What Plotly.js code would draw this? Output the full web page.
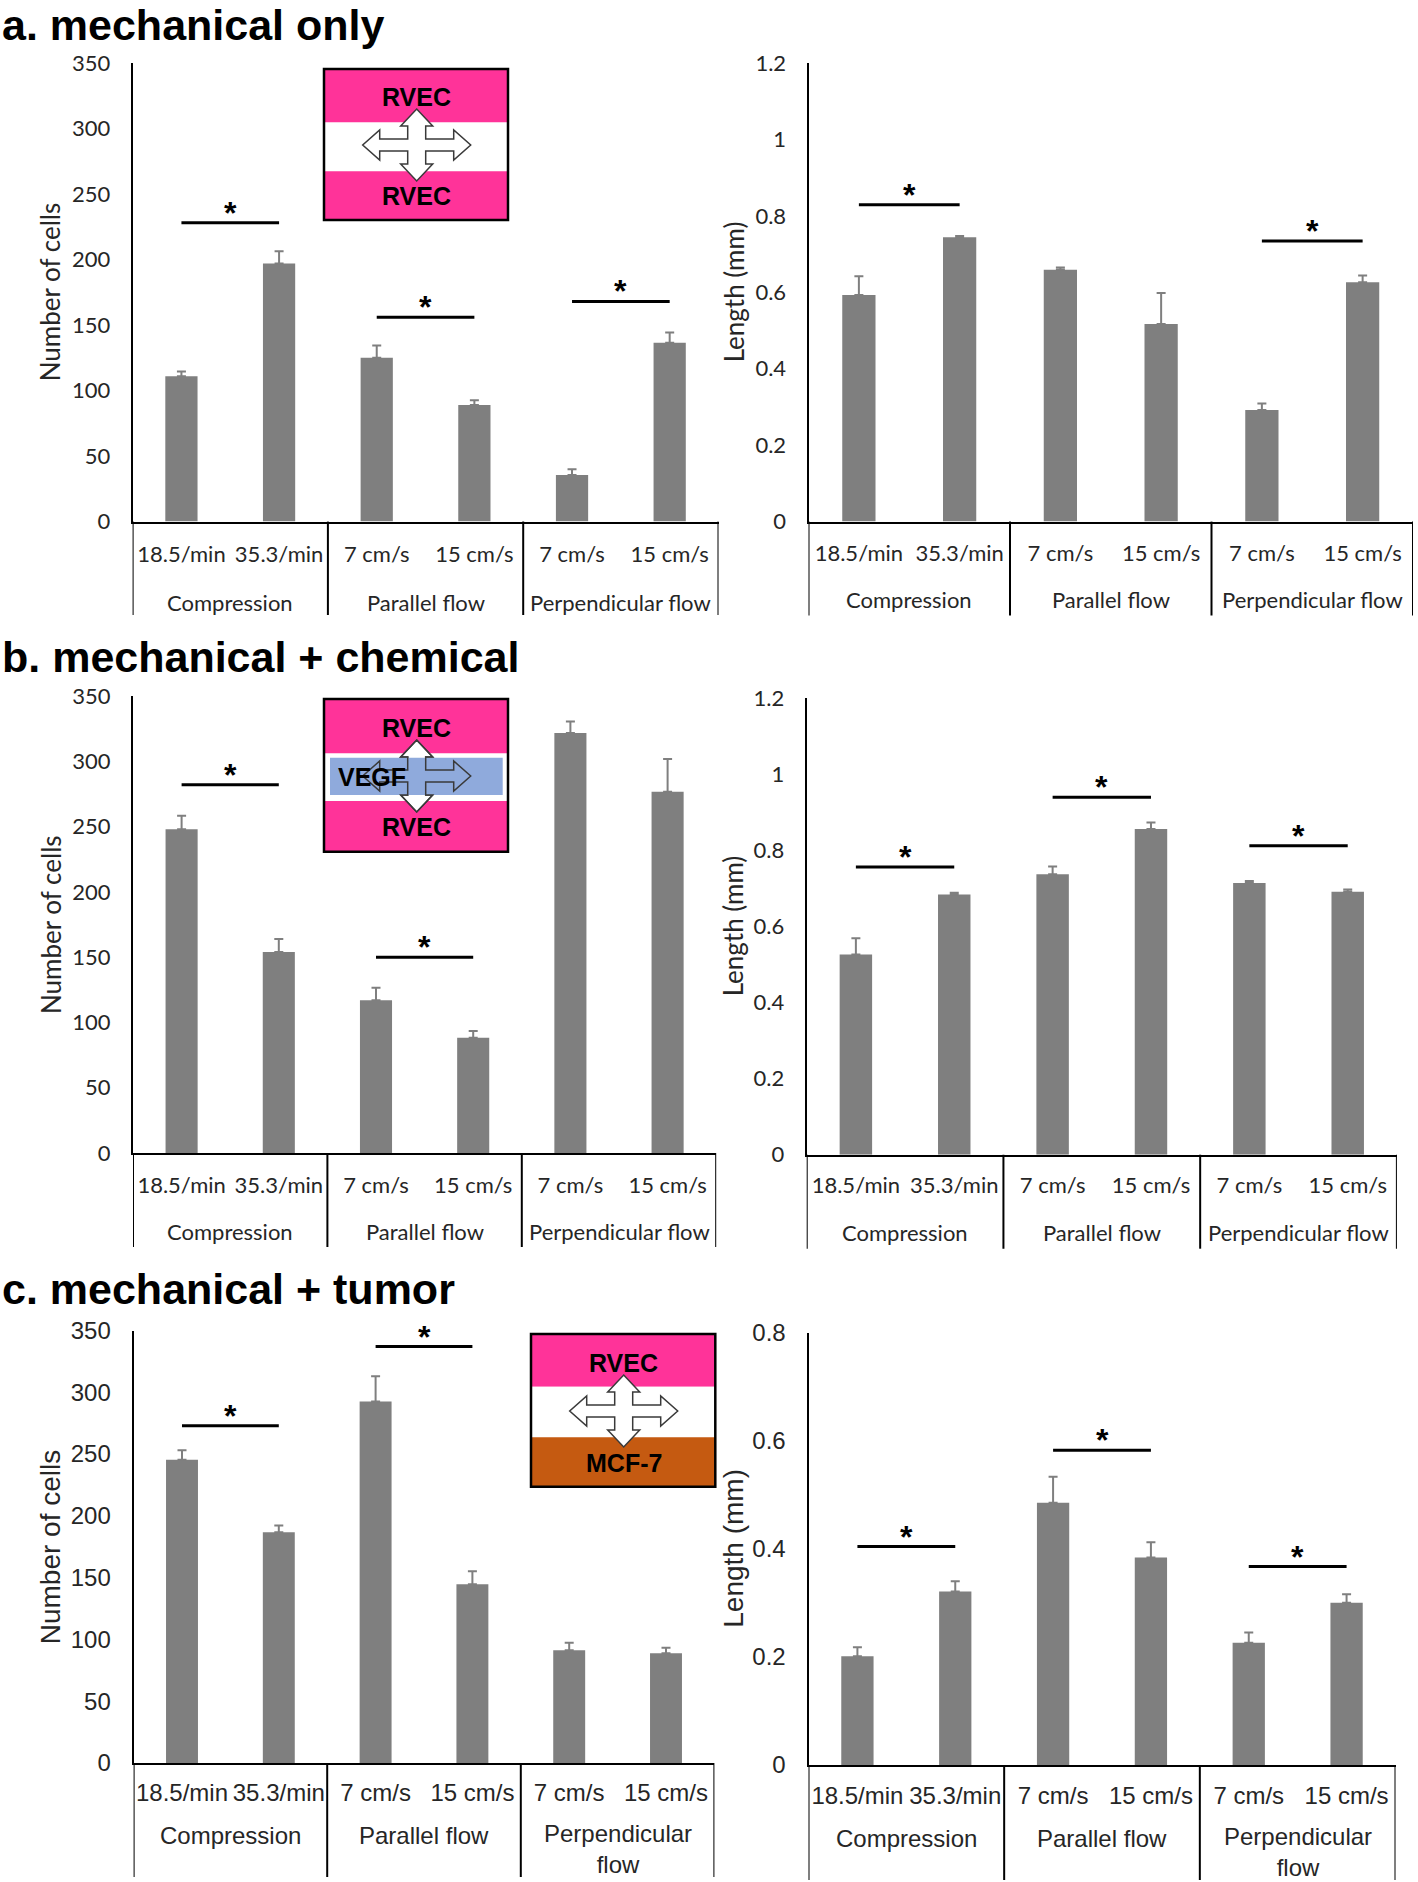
<!DOCTYPE html>
<html><head><meta charset="utf-8">
<script src="https://cdn.plot.ly/plotly-3.0.1.min.js"></script>
<style>html,body{margin:0;padding:0;background:#fff}#chart{width:1418px;height:1882px}</style>
</head><body><div id="chart"></div>
<script>
// ---------- DATA ----------
const categories = ["18.5/min", "35.3/min", "7 cm/s", "15 cm/s", "7 cm/s", "15 cm/s"];
const groupLabels = ["Compression", "Parallel flow", "Perpendicular flow"];
const groupLabelsC = ["Compression", "Parallel flow", "Perpendicular<br>flow"];
const panelTitles = ["a. mechanical only", "b. mechanical + chemical", "c. mechanical + tumor"];

const cellsA = [111, 197, 125, 89, 35.5, 136.5];
const cellsAErr = [3.5, 9.4, 9.4, 3.7, 4.4, 7.8];
const lengthA = [0.593, 0.744, 0.659, 0.517, 0.292, 0.626];
const lengthAErr = [0.049, 0.003, 0.006, 0.081, 0.017, 0.018];

const cellsB = [248, 154, 117, 88.3, 321.6, 276.7];
const cellsBErr = [10.2, 9.8, 9.5, 5.2, 8.9, 25];
const lengthB = [0.526, 0.684, 0.737, 0.856, 0.714, 0.691];
const lengthBErr = [0.043, 0.004, 0.02, 0.017, 0.005, 0.006];

const cellsC = [245.4, 186.7, 292.5, 144.7, 91.3, 88.8];
const cellsCErr = [7.6, 5.4, 20.5, 10.4, 6, 4.4];
const lengthC = [0.201, 0.321, 0.485, 0.384, 0.226, 0.300];
const lengthCErr = [0.017, 0.019, 0.048, 0.028, 0.019, 0.016];

// significance brackets: [from category, to category, level]
const sigCellsA = [[0, 1, 228], [2, 3, 156], [4, 5, 168]];
const sigLengthA = [[0, 1, 0.829], [4, 5, 0.734]];
const sigCellsB = [[0, 1, 282], [2, 3, 150]];
const sigLengthB = [[0, 1, 0.756], [2, 3, 0.939], [4, 5, 0.812]];
const sigCellsC = [[0, 1, 273], [2, 3, 337]];
const sigLengthC = [[0, 1, 0.404], [2, 3, 0.582], [4, 5, 0.367]];

// ---------- LAYOUT ----------
const W = 1418, H = 1882;
const fx = x => x / W, fy = y => 1 - y / H;
const CAL = "Lato, 'Open Sans', sans-serif";
const ARI = "'Liberation Sans', Arial, sans-serif";
const TXT = '#262626';
const BAR = '#7F7F7F';

const panels = [
  {vals: cellsA, errs: cellsAErr, sig: sigCellsA, yr: [0, 350], dt: 50, x0: 132.6, x1: 718.5, yt: 63, yb: 521.6, divB: 615, catY: 555, grpY: 602, ttl: 'Number of cells', ttlX: 50, grp: groupLabels, f: CAL, fs: 22, ts: 26},
  {vals: lengthA, errs: lengthAErr, sig: sigLengthA, yr: [0, 1.2], dt: 0.2, x0: 808.5, x1: 1413, yt: 63, yb: 521.6, divB: 615.5, catY: 554, grpY: 600, ttl: 'Length (mm)', ttlX: 734, grp: groupLabels, f: CAL, fs: 22, ts: 26},
  {vals: cellsB, errs: cellsBErr, sig: sigCellsB, yr: [0, 350], dt: 50, x0: 133, x1: 716.2, yt: 696, yb: 1153, divB: 1247, catY: 1185.6, grpY: 1231.8, ttl: 'Number of cells', ttlX: 50.5, grp: groupLabels, f: CAL, fs: 22, ts: 26},
  {vals: lengthB, errs: lengthBErr, sig: sigLengthB, yr: [0, 1.2], dt: 0.2, x0: 806.7, x1: 1396.9, yt: 698, yb: 1154.7, divB: 1248.7, catY: 1186, grpY: 1232.6, ttl: 'Length (mm)', ttlX: 733, grp: groupLabels, f: CAL, fs: 22, ts: 26},
  {vals: cellsC, errs: cellsCErr, sig: sigCellsC, yr: [0, 350], dt: 50, x0: 133.6, x1: 714.4, yt: 1330.5, yb: 1763, divB: 1877, catY: 1792, grpY: 1835, ttl: 'Number of cells', ttlX: 50.5, grp: groupLabelsC, f: ARI, fs: 24, ts: 28},
  {vals: lengthC, errs: lengthCErr, sig: sigLengthC, yr: [0, 0.8], dt: 0.2, x0: 808.5, x1: 1395.5, yt: 1332.5, yb: 1765, divB: 1880, catY: 1795, grpY: 1838, ttl: 'Length (mm)', ttlX: 734, grp: groupLabelsC, f: ARI, fs: 24, ts: 28}
];

const xPos = categories.map((_, i) => i);
const data = [];
const layout = {
  width: W, height: H, margin: {l: 0, r: 0, t: 0, b: 0},
  paper_bgcolor: '#fff', plot_bgcolor: 'rgba(0,0,0,0)',
  showlegend: false, shapes: [], annotations: []
};

panels.forEach((p, i) => {
  const n = i === 0 ? '' : String(i + 1);
  const xa = 'x' + n, ya = 'y' + n;
  data.push({
    type: 'bar', x: xPos, y: p.vals, width: 0.33, xaxis: xa, yaxis: ya,
    marker: {color: BAR}, hoverinfo: 'none',
    error_y: {type: 'data', symmetric: false, array: p.errs, arrayminus: [], color: BAR, thickness: 2, width: 4.5}
  });
  p.sig.forEach(s => {
    data.push({type: 'scatter', mode: 'lines', x: [s[0], s[1]], y: [s[2], s[2]], xaxis: xa, yaxis: ya,
      line: {color: '#000', width: 3}, hoverinfo: 'none'});
    layout.annotations.push({xref: xa, yref: ya, x: (s[0] + s[1]) / 2, y: s[2], text: '<b>*</b>', showarrow: false,
      yanchor: 'middle', yshift: 10, font: {family: ARI, size: 32, color: '#000'}});
  });
  const tl = p.catY - p.yb - 14 - 0.34 * p.fs;
  layout['xaxis' + n] = {
    domain: [fx(p.x0), fx(p.x1)], range: [-0.5, 5.5], anchor: ya,
    tickvals: xPos, ticktext: categories, showline: true, linecolor: '#000', linewidth: 2,
    ticks: 'outside', ticklen: tl, tickcolor: 'rgba(0,0,0,0)', showgrid: false, zeroline: false,
    tickfont: {family: p.f, size: p.fs, color: TXT}, fixedrange: true
  };
  layout['yaxis' + n] = {
    domain: [fy(p.yb), fy(p.yt)], range: p.yr, dtick: p.dt, tick0: 0, anchor: xa,
    showline: true, linecolor: '#000', linewidth: 2,
    ticks: 'outside', ticklen: 16, tickcolor: 'rgba(0,0,0,0)', showgrid: false, zeroline: false,
    tickfont: {family: p.f, size: p.fs, color: TXT}, fixedrange: true
  };
  // group dividers
  for (let k = 0; k <= p.grp.length; k++) {
    layout.shapes.push({type: 'line', xref: xa, yref: 'paper', x0: 2 * k - 0.5, x1: 2 * k - 0.5,
      y0: fy(p.yb), y1: fy(p.divB), line: {color: '#000', width: 2}});
  }
  p.grp.forEach((g, k) => {
    const lines = g.split('<br>').length;
    layout.annotations.push({xref: xa, yref: 'paper', x: 2 * k + 0.5, y: fy(p.grpY + (lines - 1) * 0.6 * p.fs),
      text: g, showarrow: false, xanchor: 'center', yanchor: 'middle',
      font: {family: p.f, size: p.fs, color: TXT}});
  });
  layout.annotations.push({xref: 'paper', yref: 'paper', x: fx(p.ttlX), y: fy((p.yt + p.yb) / 2),
    text: p.ttl, textangle: -90, showarrow: false, xanchor: 'center', yanchor: 'middle',
    font: {family: p.f, size: p.ts, color: TXT}});
});

// panel titles
[[25], [657], [1289]].forEach((t, i) => {
  layout.annotations.push({xref: 'paper', yref: 'paper', x: 0, y: fy(t[0]), xanchor: 'left', yanchor: 'middle',
    text: '<b>' + panelTitles[i] + '</b>', showarrow: false, font: {family: ARI, size: 43, color: '#000'}});
});

// ---------- inset diagrams ----------
function rect(x0, y0, x1, y1, fill, line) {
  return {type: 'rect', xref: 'paper', yref: 'paper', x0: fx(x0), x1: fx(x1), y0: fy(y0), y1: fy(y1),
    fillcolor: fill || 'rgba(0,0,0,0)', line: line || {width: 0}};
}
function quadArrow(cx, cy, fill) {
  const pts = [[0,-36],[16,-19],[9,-19],[9,-6],[37,-6],[37,-15],[54,0],[37,15],[37,6],[9,6],[9,19],[16,19],
    [0,36],[-16,19],[-9,19],[-9,6],[-37,6],[-37,15],[-54,0],[-37,-15],[-37,-6],[-9,-6],[-9,-19],[-16,-19]];
  const d = pts.map((q, i) => (i ? 'L' : 'M') + fx(cx + q[0]).toFixed(5) + ',' + fy(cy + q[1]).toFixed(5)).join(' ') + ' Z';
  return {type: 'path', xref: 'paper', yref: 'paper', path: d, fillcolor: fill, line: {color: '#3a3a3a', width: 1.5}};
}
function label(x, y, t) {
  layout.annotations.push({xref: 'paper', yref: 'paper', x: fx(x), y: fy(y), text: '<b>' + t + '</b>', showarrow: false,
    xanchor: 'center', yanchor: 'middle', font: {family: ARI, size: 25, color: '#000'}});
}
const PINK = '#FF3399', BLUE = '#8FAADC', BROWN = '#C55A11';
const border = {color: '#000', width: 2.5};
// a
layout.shapes.push(rect(324, 69, 508, 220, PINK));
layout.shapes.push(rect(324, 122.3, 508, 171.3, '#fff'));
layout.shapes.push(quadArrow(416.7, 145, '#fff'));
layout.shapes.push(rect(324, 69, 508, 220, null, border));
label(416.7, 97, 'RVEC'); label(416.7, 196, 'RVEC');
// b
layout.shapes.push(rect(324, 699, 508, 851.7, PINK));
layout.shapes.push(rect(324, 753.3, 508, 801, '#fff'));
layout.shapes.push(quadArrow(416.7, 776, '#fff'));
layout.shapes.push(rect(330, 757.7, 502.7, 795, BLUE));
layout.shapes.push(quadArrow(416.7, 776, 'rgba(0,0,0,0)'));
layout.shapes.push(rect(324, 699, 508, 851.7, null, border));
label(416.7, 727.5, 'RVEC'); label(416.7, 827, 'RVEC'); label(372, 776.5, 'VEGF');
// c
layout.shapes.push(rect(531, 1334, 715.3, 1386.7, PINK));
layout.shapes.push(rect(531, 1386.7, 715.3, 1437.3, '#fff'));
layout.shapes.push(rect(531, 1437.3, 715.3, 1486.7, BROWN));
layout.shapes.push(quadArrow(623.7, 1411, '#fff'));
layout.shapes.push(rect(531, 1334, 715.3, 1486.7, null, border));
label(623.7, 1362.5, 'RVEC'); label(623.7, 1462.5, 'MCF-7');

Plotly.newPlot('chart', data, layout, {staticPlot: true, displayModeBar: false});
</script>
</body></html>
